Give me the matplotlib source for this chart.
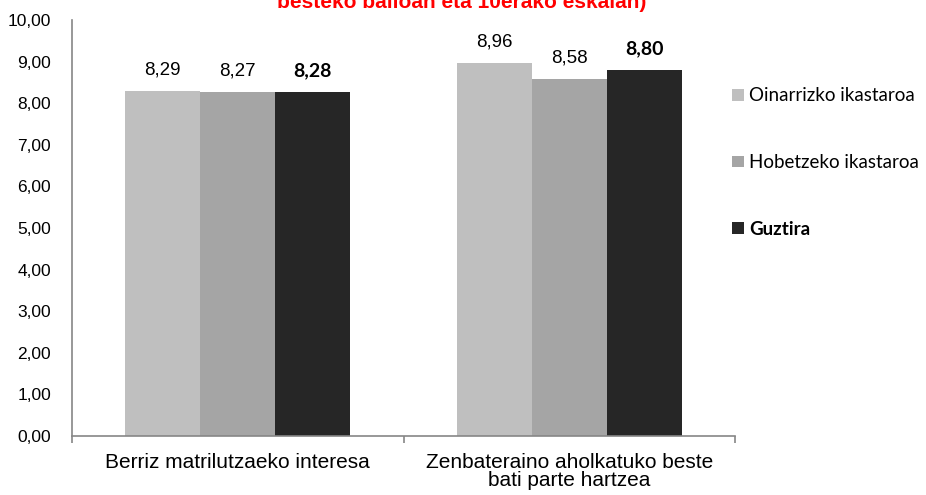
import matplotlib
matplotlib.use("Agg")
import matplotlib.pyplot as plt
import numpy as np
from matplotlib.patches import Patch

categories = ["Berriz matrilutzaeko interesa", "Zenbateraino aholkatuko beste\nbati parte hartzea"]
series_names = ["Oinarrizko ikastaroa", "Hobetzeko ikastaroa", "Guztira"]
oinarrizko = [8.29, 8.96]
hobetzeko = [8.27, 8.58]
guztira = [8.28, 8.80]
yticks = [0, 1, 2, 3, 4, 5, 6, 7, 8, 9, 10]
title = "besteko balioan eta 10erako eskalan)"

colors = ["#BFBFBF", "#A5A5A5", "#262626"]
values = [oinarrizko, hobetzeko, guztira]

fig = plt.figure(figsize=(9.26, 4.95), dpi=100)
ax = fig.add_axes([72/926, 1-436/495, (735-72)/926, (436-20)/495])

x = np.arange(len(categories))
w = 0.226
for i, (vals, c) in enumerate(zip(values, colors)):
    pos = x + (i - 1) * w
    ax.bar(pos, vals, width=w, color=c, label=series_names[i])
    for p, v in zip(pos, vals):
        if i == 2:
            ax.annotate(f"{v:.2f}".replace(".", ","), (p, v), xytext=(0, 9), textcoords="offset points",
                        ha="center", va="bottom", fontsize=14, family="Lato",
                        fontweight="bold", color="black")
        else:
            ax.annotate(f"{v:.2f}".replace(".", ","), (p, v), xytext=(0, 9), textcoords="offset points",
                        ha="center", va="bottom", fontsize=13.5, family="Liberation Sans",
                        color="black")

ax.set_xlim(-0.5, 1.5)
ax.set_ylim(0, 10)
ax.set_yticks(yticks)
ax.set_yticklabels([f"{t:.2f}".replace(".", ",") for t in yticks], fontsize=12.5, family="Liberation Sans")
ax.tick_params(axis="y", length=0, pad=15)
ax.set_xticks([-0.5, 0.5, 1.5], minor=False)
ax.set_xticklabels([])
ax.tick_params(axis="x", length=5, color="#868686", width=1.2)
ax.set_xticks(x, minor=True)
ax.set_xticklabels(categories, minor=True, fontsize=15, family="Liberation Sans", linespacing=0.95)
ax.tick_params(axis="x", which="minor", length=0, pad=12)
for s in ["top", "right"]:
    ax.spines[s].set_visible(False)
for s in ["left", "bottom"]:
    ax.spines[s].set_color("#868686")
    ax.spines[s].set_linewidth(1.2)

handles = [Patch(facecolor=c) for c in colors]
leg = fig.legend(handles, series_names, loc="upper left", bbox_to_anchor=(723/926, 1-78/495),
                 frameon=False, prop={"family": "Lato", "size": 13.5}, labelspacing=2.65,
                 handlelength=0.6, handleheight=0.6, handletextpad=0.3, borderpad=0)
leg.get_texts()[2].set_fontweight("bold")

fig.text(462/926, 1-8/495, title, ha="center", va="baseline", color="red", fontsize=15,
         fontweight="bold", family="Liberation Sans")

fig.savefig("out.png", dpi=100)
